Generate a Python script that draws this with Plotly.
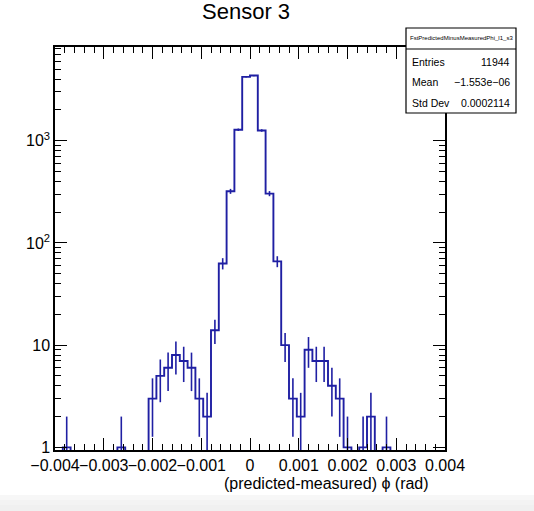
import numpy as np
import plotly.graph_objects as go

# ---- data ----
hist_name = "FstPredictedMinusMeasuredPhi_l1_s3"
title_text = "Sensor 3"
x_title = "(predicted-measured) ϕ (rad)"
x_min, x_max, n_bins = -0.004, 0.004, 50
counts = [0, 1, 0, 0, 0, 0, 0, 0, 1, 0,
          0, 0, 3, 5, 6, 8, 7, 6, 3, 2,
          14, 63, 320, 1280, 4210, 4340, 1260, 304, 66, 10,
          3, 2, 9, 7, 7, 4, 3, 1, 0, 1,
          2, 0, 1, 0, 0, 0, 0, 0, 0, 0]
stat_labels = ["Entries", "Mean", "Std Dev"]
stat_values = ["11944", "\u22121.553e\u221206", "0.0002114"]
x_tick_vals = [-0.004, -0.003, -0.002, -0.001, 0.0, 0.001, 0.002, 0.003, 0.004]
x_tick_text = ["\u22120.004", "\u22120.003", "\u22120.002", "\u22120.001", "0",
               "0.001", "0.002", "0.003", "0.004"]
y_tick_vals = [1, 10, 100, 1000]
y_tick_text = ["1", "10", "10<sup>2</sup>", "10<sup>3</sup>"]

# ---- derived ----
counts = np.array(counts, dtype=float)
edges = np.linspace(x_min, x_max, n_bins + 1)
centers = 0.5 * (edges[:-1] + edges[1:])
y_log_range = [-0.026, 3.917]
floor = 10 ** (y_log_range[0] - 0.3)
step_y = np.where(counts > 0, counts, floor)
step_x = list(edges)
step_y = list(step_y) + [step_y[-1]]

ex, ey = [], []
for c, n in zip(centers, counts):
    if n <= 0:
        continue
    e = np.sqrt(n)
    lo = n - e
    if lo <= 0:
        lo = floor
    ex += [c, c, None]
    ey += [lo, n + e, None]

col = "#1f1fa3"
font = "Liberation Sans, Arial, Helvetica, sans-serif"

fig = go.Figure()
fig.add_trace(go.Scatter(x=step_x, y=step_y, mode="lines", line=dict(shape="hv", color=col, width=1.9),
                         showlegend=False, hoverinfo="skip"))
fig.add_trace(go.Scatter(x=ex, y=ey, mode="lines", line=dict(color=col, width=1.6),
                         showlegend=False, hoverinfo="skip"))

W, H = 534, 511
L, R, T, B = 55, 445, 47, 450
pw, ph = R - L, B - T

def px(xp):
    return (xp - L) / pw

def py(yp):
    return (B - yp) / ph

fig.update_layout(
    width=W, height=H,
    margin=dict(l=L, r=W - R, t=T, b=H - B, pad=0),
    paper_bgcolor="white", plot_bgcolor="white",
    font=dict(family=font, color="black", size=16),
    xaxis=dict(range=[x_min, x_max], tickmode="array", tickvals=x_tick_vals, ticktext=x_tick_text,
               ticks="inside", ticklen=12, tickwidth=1, tickcolor="black", tickangle=0,
               showline=True, linecolor="black", linewidth=1.5, mirror="ticks",
               showgrid=False, zeroline=False, tickfont=dict(size=16),
               minor=dict(ticks="inside", ticklen=6, tickwidth=1, tickcolor="black", dtick=0.0002,
                          tick0=0, showgrid=False)),
    yaxis=dict(type="log", range=y_log_range, tickmode="array", tickvals=y_tick_vals, ticktext=y_tick_text,
               ticks="inside", ticklen=12, tickwidth=1, tickcolor="black",
               showline=True, linecolor="black", linewidth=1.5, mirror="ticks",
               showgrid=False, zeroline=False, tickfont=dict(size=16),
               minor=dict(ticks="inside", ticklen=6, tickwidth=1, tickcolor="black",
                          tickvals=[m * 10 ** k for k in range(0, 4) for m in range(2, 10)],
                          showgrid=False)),
)

shapes = []
# page bottom shading
for i, c in enumerate(["#f7f7f7", "#f3f3f3", "#f0f0f0"]):
    shapes.append(dict(type="rect", xref="paper", yref="paper", x0=px(0), x1=px(W + 2),
                       y0=py(495 + i * 5), y1=py(H + 2), fillcolor=c, line=dict(width=0), layer="below"))
# stats box
bx0, bx1, by0, bhd, by1 = 406, 516, 28, 49, 113
shapes.append(dict(type="rect", xref="paper", yref="paper", x0=px(bx0), x1=px(bx1), y0=py(by1), y1=py(by0),
                   fillcolor="white", line=dict(color="black", width=1.2), layer="above"))
shapes.append(dict(type="line", xref="paper", yref="paper", x0=px(bx0), x1=px(bx1), y0=py(bhd), y1=py(bhd),
                   line=dict(color="black", width=1.2), layer="above"))
fig.update_layout(shapes=shapes)

ann = []
ann.append(dict(text=title_text, xref="paper", yref="paper", x=px(246), y=py(12), showarrow=False,
                xanchor="center", yanchor="middle", font=dict(size=22)))
ann.append(dict(text=x_title, xref="paper", yref="paper", x=px(431), y=py(483), showarrow=False,
                xanchor="right", yanchor="middle", font=dict(size=16)))
ann.append(dict(text=hist_name, xref="paper", yref="paper", x=px((bx0 + bx1) / 2), y=py(38.5), showarrow=False,
                xanchor="center", yanchor="middle", font=dict(size=6)))
row_y = [62, 82, 103]
for lab, val, yy in zip(stat_labels, stat_values, row_y):
    ann.append(dict(text=lab, xref="paper", yref="paper", x=px(410), y=py(yy), showarrow=False,
                    xanchor="left", yanchor="middle", font=dict(size=10.5)))
    ann.append(dict(text=val, xref="paper", yref="paper", x=px(512), y=py(yy), showarrow=False,
                    xanchor="right", yanchor="middle", font=dict(size=10.5)))
fig.update_layout(annotations=ann)

fig.write_html("out.html", config={"displayModeBar": False},
               post_script="document.body.style.margin='0';")
